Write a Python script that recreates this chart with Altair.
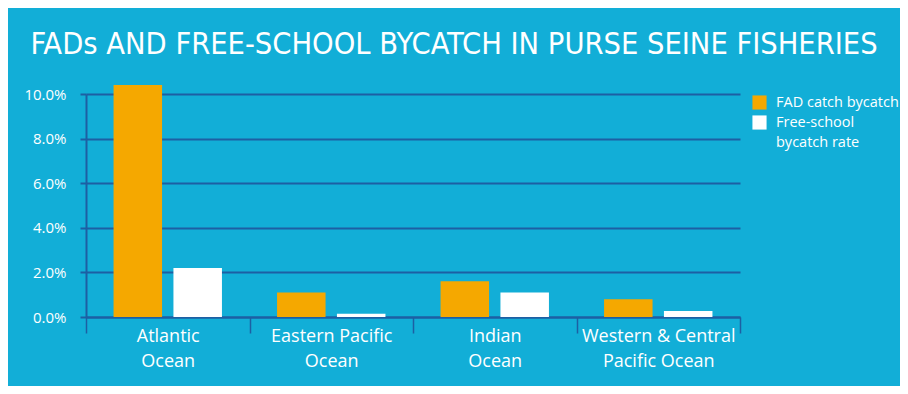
import altair as alt
import pandas as pd

# ---- data ----
oceans = ["Atlantic Ocean", "Eastern Pacific Ocean", "Indian Ocean", "Western & Central Pacific Ocean"]
ocean_lines = [["Atlantic", "Ocean"], ["Eastern Pacific", "Ocean"], ["Indian", "Ocean"],
               ["Western & Central", "Pacific Ocean"]]
series = ["FAD catch bycatch", "Free-school bycatch rate"]
series_lines = [["FAD catch bycatch"], ["Free-school", "bycatch rate"]]
fad_values = [10.4, 1.1, 1.6, 0.8]
free_values = [2.2, 0.15, 1.1, 0.27]
y_ticks = [0, 2, 4, 6, 8, 10]
title_text = "FADs AND FREE-SCHOOL BYCATCH IN PURSE SEINE FISHERIES"

BG = "#12aed7"
GRID = "#1d5fa3"
ORANGE = "#f5a800"
FONT = "Open Sans"

df = pd.DataFrame({
    "ocean": oceans * 2,
    "series": [series[0]] * len(oceans) + [series[1]] * len(oceans),
    "value": fad_values + free_values,
})


def lines_expr(names, lines, field="datum.label"):
    expr = "''"
    for n, ls in reversed(list(zip(names, lines))):
        arr = "[" + ",".join("'" + s.replace("'", "\\'") + "'" for s in ls) + "]"
        expr = f"{field} == '{n}' ? {arr} : ({expr})"
    return expr


chart = alt.Chart(df).mark_bar().encode(
    x=alt.X("ocean:N", sort=oceans,
            scale=alt.Scale(paddingInner=0, paddingOuter=0),
            axis=alt.Axis(title=None, labelAngle=0, tickBand="extent", tickSize=16,
                          tickColor=GRID, tickWidth=1.5, domainColor=GRID, domainWidth=2,
                          labelColor="white", labelFont=FONT, labelFontSize=18,
                          labelPadding=-6, labelLineHeight=25, labelBaseline="top",
                          labelExpr=lines_expr(oceans, ocean_lines), grid=False)),
    xOffset=alt.XOffset("series:N", sort=series,
                        scale=alt.Scale(paddingInner=0.19, paddingOuter=0.46)),
    y=alt.Y("value:Q", stack=None,
            scale=alt.Scale(domain=[0, 10], nice=False, zero=True),
            axis=alt.Axis(title=None, values=y_ticks,
                          labelExpr="format(datum.value, '.1f') + '%'",
                          grid=True, gridColor=GRID, gridWidth=2,
                          domainColor=GRID, domainWidth=2, tickColor=GRID, tickWidth=2,
                          tickSize=6, labelPadding=14, labelColor="white",
                          labelFont=FONT, labelFontSize=15)),
    color=alt.Color("series:N", sort=series,
                    scale=alt.Scale(domain=series, range=[ORANGE, "#ffffff"]),
                    legend=alt.Legend(title=None, orient="none", legendX=666, legendY=1,
                                      symbolType="square", symbolSize=200,
                                      symbolStrokeWidth=0, symbolOpacity=1,
                                      labelColor="white", labelFont=FONT, labelFontSize=14.5,
                                      labelLimit=250, labelOffset=9, rowPadding=4,
                                      labelExpr=lines_expr(series, series_lines))),
).properties(
    width=654,
    height=223,
    title=alt.TitleParams(title_text,
                          font="DejaVu Sans Condensed, Liberation Sans Narrow, Roboto Condensed, sans-serif",
                          fontSize=30.5, fontWeight="normal", color="white", anchor="middle",
                          dx=41, offset=25),
    background=BG,
    autosize=alt.AutoSizeParams(type="none"),
    padding={"left": 78, "top": 86, "right": 160, "bottom": 69},
).configure(
    style={"guide-label": {"lineHeight": 20}}
).configure_view(stroke=None)

chart.save("out.html", embed_options={"renderer": "svg", "actions": False})
